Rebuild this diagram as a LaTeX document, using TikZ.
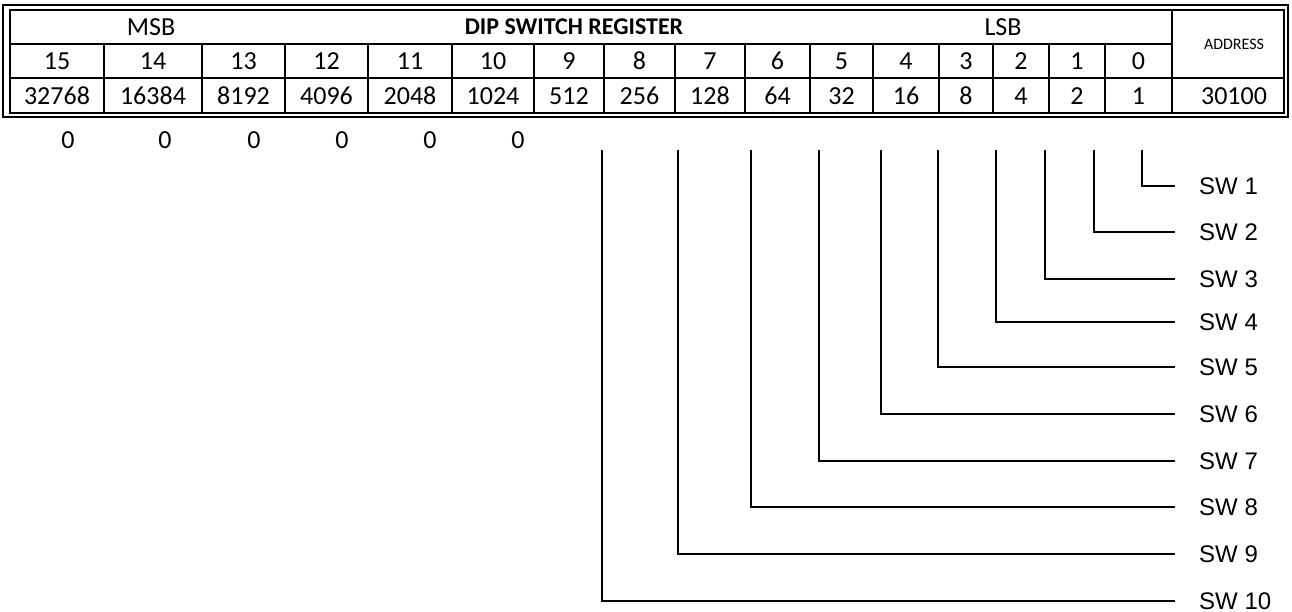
\documentclass[tikz,border=0pt]{standalone}
\usepackage{fontspec}
\setmainfont{Carlito}
\newfontfamily\swfont{Liberation Sans}
\begin{document}
\begin{tikzpicture}[x=1pt,y=-1pt,
  tab/.style={font=\fontsize{26}{30}\selectfont, inner sep=0pt, anchor=center},
  small/.style={font=\fontsize{16}{19}\selectfont, inner sep=0pt, anchor=center},
  swlabel/.style={font=\swfont\fontsize{24}{28}\selectfont, anchor=west, inner sep=0pt},
  gridline/.style={line width=2pt},
  wire/.style={line width=1.5pt}]
\useasboundingbox (0,0) rectangle (1292,612);
\fill[white] (0,0) rectangle (1292,612);
% outer double border
\draw[gridline] (3,5) rectangle (1288,117);
\draw[gridline] (10,10) rectangle (1284,113);
% row lines
\draw[gridline] (10,44) -- (1172,44);
\draw[gridline] (10,78) -- (1284,78);
\draw[gridline] (1172,10) -- (1172,113);
% header texts
\node[tab] (msb) at (151,27) {MSB};
\node[tab, font=\fontsize{24}{28}\selectfont] (title) at (574,27) {\bfseries DIP SWITCH REGISTER};
\node[tab] (lsb) at (1003,27) {LSB};
\node[small] (addr) at (1234,44) {ADDRESS};
\node[tab] (addrval) at (1234,96) {30100};
% bit columns
\foreach \l/\r/\b/\v in {10/104/15/32768, 104/202/14/16384, 202/285/13/8192, 285/368/12/4096, 368/452/11/2048, 452/534/10/1024, 534/604/9/512, 604/675/8/256, 675/745/7/128, 745/810/6/64, 810/873/5/32, 873/939/4/16, 939/993/3/8, 993/1049/2/4, 1049/1105/1/2, 1105/1172/0/1}{
  \node[tab] (b\b) at ({(\l+\r)/2},61) {\b};
  \node[tab] (v\b) at ({(\l+\r)/2},96) {\v};
  \draw[gridline] (\r,44) -- (\r,113);
}
% zeros
\foreach \x [count=\i] in {68,165,254,342,430,518}{
  \node[tab] (z\i) at (\x,140) {0};
}
% switch wires
\foreach \x/\y/\i in {1142/186/1, 1094/232/2, 1045/279/3, 996/322/4, 938/367/5, 881/414/6, 819/461/7, 751/507/8, 678/554/9, 602/601/10}{
  \coordinate (t\i) at (\x,150);
  \coordinate (e\i) at (1175,\y);
  \node[swlabel] (s\i) at (1199,\y) {SW \i};
  \draw[wire] (t\i) |- (e\i);
}
\end{tikzpicture}
\end{document}
